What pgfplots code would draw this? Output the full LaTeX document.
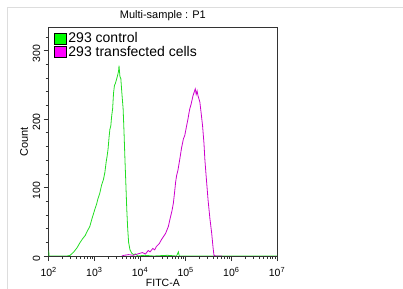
\documentclass[border=0pt]{standalone}
\usepackage{fontspec}
\setmainfont{Liberation Sans}
\usepackage{pgfplots}
\pgfplotsset{compat=1.18}
\definecolor{ctrlgreen}{HTML}{22DD22}
\definecolor{legreen}{HTML}{00FF00}
\definecolor{tmag}{HTML}{CC00CC}
\definecolor{legmag}{HTML}{FF00FF}
\definecolor{framegray}{HTML}{DDDDDD}
\begin{document}
\begin{tikzpicture}
\useasboundingbox (0,0) rectangle (403bp,289bp);
\draw[framegray, line width=1bp] (7.5bp,0) -- (7.5bp,281.5bp) -- (403bp,281.5bp);
\begin{axis}[
  at={(48.7bp,33bp)}, anchor=south west,
  scale only axis, width=228.3bp, height=228.7bp,
  xmode=log, xmin=100, xmax=1e7, ymin=0, ymax=334,
  axis line style={black!80, line width=0.7bp},
  xtick pos=bottom, ytick pos=left, tick align=outside,
  major tick length=5bp, minor tick length=3bp,
  every tick/.style={black!80, line width=0.6bp},
  xtick={100,1000,10000,100000,1000000,10000000},
  xticklabels={10\textsuperscript{2},10\textsuperscript{3},10\textsuperscript{4},10\textsuperscript{5},10\textsuperscript{6},10\textsuperscript{7}},
  ytick={0,100,200,300},
  minor ytick={20,40,60,80,120,140,160,180,220,240,260,280,320},
  yticklabel style={rotate=90, anchor=south, font=\fontsize{10.5bp}{12bp}\selectfont, xshift=-3bp},
  xticklabel style={font=\fontsize{10.5bp}{12bp}\selectfont, yshift=-3bp},
  /pgf/number format/assume math mode=true,
  title={Multi-sample : P1},
  title style={font=\fontsize{11bp}{13bp}\selectfont, yshift=-3bp},
  xlabel={FITC-A},
  xlabel style={font=\fontsize{10.5bp}{12bp}\selectfont, inner sep=0.5bp, yshift=2bp},
  ylabel={Count},
  ylabel style={font=\fontsize{11bp}{13bp}\selectfont, yshift=-2bp},
  legend style={draw=none, fill=none, at={(0.02,0.99)}, anchor=north west,
    font=\fontsize{14bp}{15bp}\selectfont, row sep=-2.5bp, inner sep=1bp},
  legend cell align=left,
]
\addplot[ctrlgreen, line width=0.8bp, legend image code/.code={\draw[black, fill=legreen, line width=0.5bp] (0bp,-5.5bp) rectangle (11.5bp,5.5bp);}] coordinates {
(100,8) (102,0) (199.5,0) (251,0) (295,1) (355,6) (417,12) (479,19) (550,25) (631,30) (708,37) (794,43) (891,55)
(1023,68) (1122,76) (1202,84) (1318,92) (1445,104) (1585,112) (1698,122) (1820,138) (1905,146) (1995,156)
(2089,172) (2188,185) (2291,190) (2399,205) (2512,215) (2630,238) (2754,249) (2884,252) (3090,259) (3236,264)
(3388,270) (3467,278) (3631,262) (3802,259) (3981,240) (4266,215) (4467,180) (4677,141) (4898,105) (5129,68)
(5370,40) (5623,20) (6026,9) (6607,4) (7244,2) (7943,3) (8913,0) (12589,1) (19953,0) (39811,1) (63096,0)
(69183,6) (72444,0) (100000,0) (10000000,0)
};
\addlegendentry{293 control}
\addplot[tmag, line width=0.8bp, legend image code/.code={\draw[black, fill=legmag, line width=0.5bp] (0bp,-5.5bp) rectangle (11.5bp,5.5bp);}] coordinates {
(3981,0) (4467,1) (5623,2) (7079,1) (8913,3) (11220,5) (13183,3) (15136,8) (16596,6) (19055,11) (20893,9)
(22909,14) (26303,18) (29512,24) (32359,28) (36308,33) (41687,43) (45709,55) (50119,66) (53703,77) (57544,95)
(60256,108) (63096,117) (67608,125) (74131,141) (81283,158) (89125,171) (95499,176) (104713,190) (112202,200)
(117490,208) (123027,215) (131826,222) (144544,234) (154882,240) (162181,244) (169824,236) (177828,241)
(186209,234) (204174,225) (218776,208) (234423,190) (251189,165) (263027,141) (281838,115) (309030,82)
(338844,55) (371535,33) (398107,12) (416869,1) (446684,0) (630957,0)
};
\addlegendentry{293 transfected cells}
\end{axis}
\end{tikzpicture}
\end{document}
